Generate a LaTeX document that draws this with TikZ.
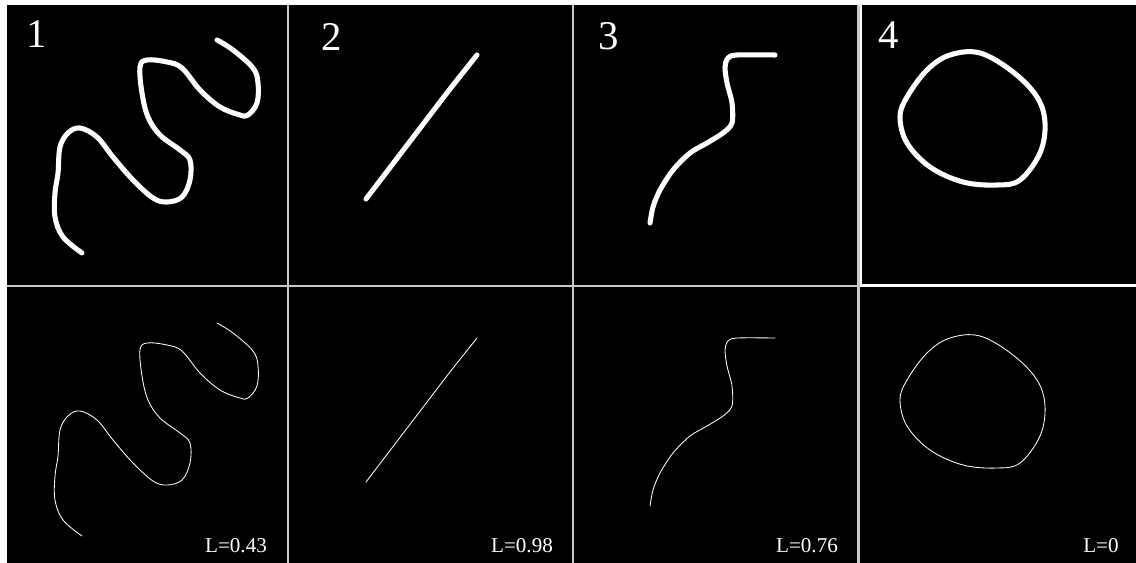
\documentclass[tikz,border=0pt]{standalone}
\usepackage{fontspec}
\setmainfont{Liberation Serif}
\usepackage{tikz}
\usetikzlibrary{positioning}

\begin{document}
\begin{tikzpicture}[
                  x=0.025cm, y=-0.025cm,
                  panel/.style={fill=black, draw=none},
                  stroke/.style={white, line cap=round, line join=round},
                  num/.style={text=white, inner sep=0pt, font=\fontsize{29}{30}\selectfont},
                  score/.style={text=white, inner sep=0pt, font=\fontsize{15}{16}\selectfont},
            ]
            % page and panels
            \fill[white] (0,0) rectangle (1136,563);
            \useasboundingbox (0,0) rectangle (1136,563);
            \fill[black!22!white] (7,5) rectangle (860,563);
            \fill[panel] (7,5) rectangle (287,285);
            \fill[panel] (289,5) rectangle (572,285);
            \fill[panel] (574,5) rectangle (857,285);
            \fill[panel] (862,5) rectangle (1136,284);
            \fill[panel] (7,287) rectangle (287,563);
            \fill[panel] (289,287) rectangle (572,563);
            \fill[panel] (574,287) rectangle (857,563);
            \fill[panel] (860,287) rectangle (1136,563);

            % strokes: thick on top, thin copy below
            \foreach \dy/\lw in {0/3.6pt, 283/0.6pt}{
              \begin{scope}[shift={(0,\dy)}, stroke, line width=\lw]
                % wave
                \draw plot[smooth, tension=0.6] coordinates {
                  (217,40) (233,50) (253,68) (258,83) (257,103) (248,115) (240,115)
                  (220,107) (200,90) (182,68) (167,62) (147,60) (140,67) (142,93)
                  (148,117) (160,135) (180,150) (190,160) (190,180) (182,197)
                  (167,202) (153,198) (133,180) (113,157) (97,137) (80,128)
                  (68,133) (60,147) (58,173) (55,193) (55,217) (63,237) (82,253)};
                % line
                \draw plot[smooth] coordinates {(477,55) (450,89) (424,123) (395,161) (366,199)};
                % hook
                \draw plot[smooth, tension=0.5] coordinates {
                  (775,55) (737,55) (728,58) (725,67) (727,83) (732,103) (732,123)
                  (723,133) (707,143) (690,153) (673,170) (660,190) (653,207) (650,223)};
                % loop
                \draw plot[smooth cycle, tension=0.6] coordinates {
                  (950,55) (980,53) (1013,72) (1037,97) (1045,123) (1040,153)
                  (1020,180) (997,185) (963,182) (930,167) (907,143) (900,117)
                  (907,97) (927,70)};
              \end{scope}
            }

            % panel numbers
            \node[num] (n1) at (37,34) {1};
            \node[num] (n2) at (332,37) {2};
            \node[num] (n3) at (609,36) {3};
            \node[num] (n4) at (889,35) {4};

            % scores
            \node[score] (s1) at (236,546) {L=0.43};
            \node[score] (s2) at (522,546) {L=0.98};
            \node[score] (s3) at (807,546) {L=0.76};
            \node[score] (s4) at (1101,546) {L=0};
      \end{tikzpicture}
\end{document}
